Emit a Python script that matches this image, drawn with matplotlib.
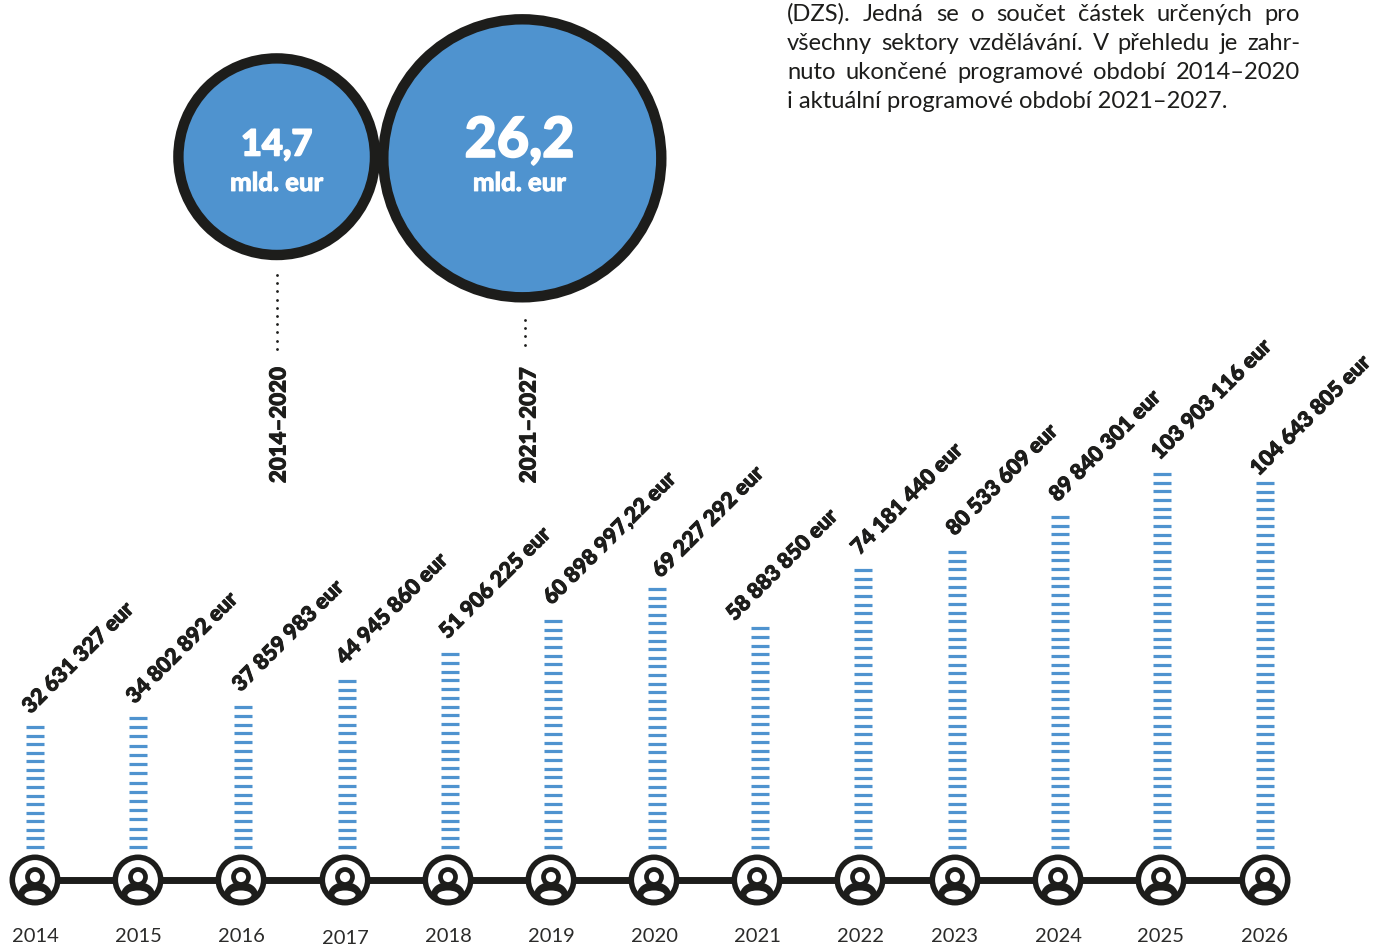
import numpy as np
import matplotlib
matplotlib.use("Agg")
import matplotlib.pyplot as plt
import matplotlib.patheffects as pe
from matplotlib.patches import Circle, Ellipse

years = [2014, 2015, 2016, 2017, 2018, 2019, 2020, 2021, 2022, 2023, 2024, 2025, 2026]
amounts = [32631327, 34802892, 37859983, 44945860, 51906225, 60898997.22, 69227292,
           58883850, 74181440, 80533609, 89840301, 103903116, 104643805]
# number of stripes and drawn height of each column, counted off the picture
stripe_counts = [15, 15, 17, 20, 23, 27, 31, 26, 33, 35, 39, 44, 43]
drawn_heights = [120, 129, 140, 166, 193, 226, 258, 219, 277, 295, 330, 373, 364]

period_names = ["2014–2020", "2021–2027"]
period_totals = ["14,7", "26,2"]
total_unit = "mld. eur"

note_lines = ["(DZS). Jedná se o součet částek určených pro",
              "všechny sektory vzdělávání. V přehledu je zahr-",
              "nuto ukončené programové období 2014–2020",
              "i aktuální programové období 2021–2027."]

# layout, in pixels of the picture
icon_x = [35, 138, 241, 345, 448, 551, 654, 757, 860, 955, 1058, 1161, 1265]
bar_x = [35, 138, 243, 347, 450, 553, 657, 760, 863, 957, 1060, 1162, 1265]
year_y = [936, 936, 936, 938, 936, 936, 936, 936, 936, 936, 936, 936, 936]
label_xy = [(26, 710), (130, 700), (236, 688), (340, 661), (443, 635), (547, 601), (656, 574),
            (730, 617), (855, 551), (950, 532), (1053, 498), (1155, 456), (1254, 472)]

BLUE = "#4f93cf"
DARK = "#1d1d1b"
W, H = 1374, 944
BASE_Y = 847

plt.rcParams["font.family"] = ["Lato", "DejaVu Sans"]

fig = plt.figure(figsize=(W / 100, H / 100), dpi=100)
ax = fig.add_axes([0, 0, 1, 1])
ax.set_xlim(0, W)
ax.set_ylim(H, 0)
ax.axis("off")

# second axes with the column height as y, zero on the base of the columns
bars = fig.add_axes([0, 0, 1, 1])
bars.set_xlim(0, W)
bars.set_ylim(BASE_Y - H, BASE_Y)
bars.axis("off")
for x, n, h in zip(bar_x, stripe_counts, drawn_heights):
    bars.hlines(np.linspace(0, h, n), x - 9, x + 9, color=BLUE, lw=2.3)


def heavy(color, w):
    # the font has no weight as heavy as the original, so thicken it a little
    return [pe.withStroke(linewidth=w, foreground=color)]


def fmt_amount(v):
    s = f"{v:,.2f}".replace(",", " ").replace(".", ",")
    if s.endswith(",00"):
        s = s[:-3]
    return s + " eur"


for (lx, ly), v in zip(label_xy, amounts):
    ax.text(lx, ly, fmt_amount(v), rotation=45, rotation_mode="anchor", ha="left", va="center",
            fontsize=15.5, fontweight="black", color=DARK, path_effects=heavy(DARK, 0.7))

# timeline with the person icons
ax.plot([icon_x[0], icon_x[-1]], [880, 880], color=DARK, lw=5, solid_capstyle="butt", zorder=1)
for x, yr, yy in zip(icon_x, years, year_y):
    ax.add_patch(Circle((x, 880), 22.7, fc="white", ec=DARK, lw=4, zorder=2))
    disc = Circle((x, 880), 20.8, transform=ax.transData)
    body = Ellipse((x, 895), 34, 26, fc=DARK, ec="none", zorder=3)
    ax.add_patch(body)
    body.set_clip_path(disc)
    ax.add_patch(Ellipse((x, 895), 21, 9, fc="white", ec="none", zorder=4))
    ax.add_patch(Circle((x, 877), 7.5, fc="white", ec=DARK, lw=3.4, zorder=5))
    ax.text(x, yy, str(yr), ha="center", va="center", fontsize=14.5, color="#2b2b2a")

# the two programme periods
centres = [(276.7, 156.7), (522.3, 158.3)]
radii = [98.3, 139]
value_sizes = [26, 40]
value_y = [145, 141]
unit_x = [276.7, 519.5]
name_x = [279, 529]
dot_x = [276.7, 525]
dot_top = [275, 320]
for c, r, vs, vy, ux, total, nm, nx, dx, dt in zip(centres, radii, value_sizes, value_y, unit_x, period_totals,
                                                   period_names, name_x, dot_x, dot_top):
    ax.add_patch(Circle(c, r, fc=BLUE, ec=DARK, lw=7.5, zorder=2))
    ax.text(c[0] - 3 if r > 100 else c[0], vy, total, ha="center", va="center", fontsize=vs, fontweight="black",
            color="white", zorder=3, path_effects=heavy("white", 1.2))
    ax.text(ux, 183, total_unit, ha="center", va="center", fontsize=18.5,
            fontweight="black", color="white", zorder=3, path_effects=heavy("white", 0.6))
    dots = np.arange(dt, 350, 8.2)
    ax.scatter(np.full(len(dots), dx), dots, s=4, color=DARK, lw=0)
    ax.text(nx, 425, nm, rotation=90, ha="center", va="center", fontsize=16, fontweight="black", color=DARK,
            path_effects=heavy(DARK, 0.7))


# justified note in the top right corner
def put_line(line, y, left, right):
    words = line.split(" ")
    if right is None:
        ax.text(left, y, line, ha="left", va="baseline", fontsize=NOTE_SIZE, color=DARK)
        return
    rend = fig.canvas.get_renderer()
    arts = [ax.text(0, y, w, ha="left", va="baseline", fontsize=NOTE_SIZE, color=DARK) for w in words]
    widths = [a.get_window_extent(rend).width for a in arts]
    gap = (right - left - sum(widths)) / (len(words) - 1)
    x = left
    for a, w in zip(arts, widths):
        a.set_x(x)
        x += w + gap


NOTE_SIZE = 17.1
for i, (line, y) in enumerate(zip(note_lines, [21, 50, 79, 108])):
    put_line(line, y, 787, 1300 if i < 3 else None)

fig.savefig("out.png", dpi=100)
